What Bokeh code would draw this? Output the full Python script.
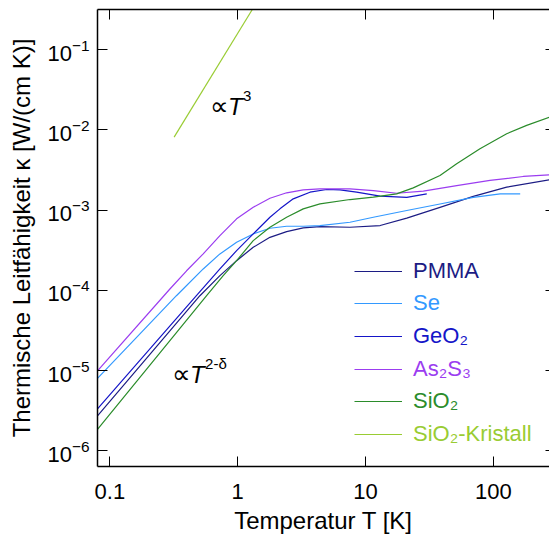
from bokeh.plotting import figure
from bokeh.models import LogAxis, FixedTicker, Legend, LegendItem, Range1d
from bokeh.core.properties import value
from bokeh.embed import file_html
from bokeh.resources import INLINE

FONT = "Liberation Sans"

# ---- data ----
x_ticks = [0.1, 1, 10, 100]
x_tick_labels = ["0.1", "1", "10", "100"]
y_ticks = [1e-6, 1e-5, 1e-4, 1e-3, 1e-2, 1e-1]

pmma_T = [0.080, 0.506, 0.7256, 0.980, 1.322, 1.786, 2.413, 3.254, 4.397, 7.55, 13.0, 21.0,
          38.2, 69.6, 127, 275]
pmma_k = [2.72e-6, 8.56e-5, 1.522e-4, 2.34e-4, 3.43e-4, 4.57e-4, 5.39e-4, 5.99e-4, 6.22e-4,
          6.10e-4, 6.41e-4, 7.94e-4, 1.08e-3, 1.48e-3, 1.93e-3, 2.38e-3]

se_T = [0.080, 0.3314, 0.537, 0.7256, 0.980, 1.322, 1.786, 2.413, 3.254, 4.397, 7.55, 11.5,
        21.0, 38.2, 69.6, 113, 162]
se_k = [8.0e-6, 8.56e-5, 1.845e-4, 2.84e-4, 3.96e-4, 5.04e-4, 5.93e-4, 6.28e-4, 6.28e-4,
        6.40e-4, 7.04e-4, 8.13e-4, 9.87e-4, 1.19e-3, 1.44e-3, 1.59e-3, 1.59e-3]

geo2_T = [0.080, 0.475, 0.7256, 0.980, 1.322, 1.786, 2.139, 2.718, 3.672, 4.962, 6.31, 8.51,
          13.0, 21.0, 30.1]
geo2_k = [3.33e-6, 8.56e-5, 1.845e-4, 3.12e-4, 5.04e-4, 8.13e-4, 1.035e-3, 1.379e-3,
          1.668e-3, 1.803e-3, 1.78e-3, 1.67e-3, 1.49e-3, 1.44e-3, 1.59e-3]

as2s3_T = [0.080, 0.2947, 0.398, 0.537, 0.7256, 0.980, 1.322, 1.786, 2.413, 3.254, 4.397,
           7.55, 11.5, 17.5, 28.3, 51.6, 94.0, 171, 275]
as2s3_k = [9.9e-6, 1.038e-4, 1.75e-4, 2.84e-4, 4.80e-4, 7.77e-4, 1.084e-3, 1.404e-3,
           1.640e-3, 1.788e-3, 1.839e-3, 1.84e-3, 1.75e-3, 1.62e-3, 1.72e-3, 2.02e-3,
           2.34e-3, 2.62e-3, 2.75e-3]

sio2_T = [0.080, 0.571, 0.770, 0.980, 1.322, 1.786, 2.413, 3.254, 4.397, 7.55, 11.5, 17.5,
          23.6, 38.2, 51.6, 78.5, 127, 182, 275]
sio2_k = [1.85e-6, 8.56e-5, 1.522e-4, 2.34e-4, 4.16e-4, 6.10e-4, 8.13e-4, 1.035e-3,
          1.195e-3, 1.352e-3, 1.445e-3, 1.59e-3, 1.89e-3, 2.70e-3, 3.78e-3, 5.81e-3,
          8.93e-3, 1.135e-2, 1.44e-2]

kristall_T = [0.318, 1.30]
kristall_k = [8.1e-3, 0.316]

names = ["PMMA", "Se", "GeO\u2082", "As\u2082S\u2083", "SiO\u2082", "SiO\u2082-Kristall"]
colors = ["#1c1c84", "#3399ff", "#1515c8", "#9b3df0", "#2b8c2b", "#99cc33"]
series_T = [pmma_T, se_T, geo2_T, as2s3_T, sio2_T, kristall_T]
series_k = [pmma_k, se_k, geo2_k, as2s3_k, sio2_k, kristall_k]

# annotation anchors (T, kappa) and texts
ann_x = [0.6026, 0.304]
ann_y = [0.01959, 9.02e-6]
ann_exp = ["3", "2-\u03b4"]

# ---- figure ----
p = figure(width=549, height=543, x_axis_type="log", y_axis_type="log",
           x_range=Range1d(0.08, 274.6), y_range=Range1d(6.37e-7, 0.3155),
           output_backend="svg", toolbar_location=None,
           min_border_left=97, min_border_right=0, min_border_top=9, min_border_bottom=77)
p.grid.visible = False
p.outline_line_color = None
p.background_fill_color = "white"
p.border_fill_color = "white"

xb = p.below[0]
yl = p.left[0]
xb.ticker = FixedTicker(ticks=x_ticks)
xb.major_label_overrides = dict(zip(x_ticks, x_tick_labels))
yl.ticker = FixedTicker(ticks=y_ticks)

for ax in (xb, yl):
    ax.major_tick_in = 10
    ax.major_tick_out = 0
    ax.minor_tick_line_color = None
    ax.axis_line_width = 1.5
    ax.axis_line_color = "black"
    ax.major_tick_line_color = "black"
    ax.major_label_text_font = FONT
    ax.major_label_text_font_size = "22px"
    ax.major_label_text_color = "black"
    ax.axis_label_text_font = FONT
    ax.axis_label_text_font_size = "24px"
    ax.axis_label_text_font_style = "normal"
    ax.axis_label_text_color = "black"

xb.axis_label = "Temperatur T [K]"
xb.major_label_standoff = 17
xb.axis_label_standoff = 5
yl.axis_label = "Thermische Leitfähigkeit \u03ba [W/(cm K)]"
yl.major_label_standoff = 8
yl.axis_label_standoff = 9

top = LogAxis(ticker=FixedTicker(ticks=x_ticks), major_label_text_font_size="1px",
              major_label_text_alpha=0, major_label_standoff=0, major_tick_in=10,
              major_tick_out=0, minor_tick_line_color=None, axis_line_width=1.5,
              axis_line_color="black")
p.add_layout(top, "above")
right = LogAxis(ticker=FixedTicker(ticks=y_ticks), major_label_text_font_size="1px",
                major_label_text_alpha=0, major_label_standoff=0, major_tick_in=4,
                major_tick_out=0, minor_tick_line_color=None, axis_line_color=None)
p.add_layout(right, "right")

renderers = []
for T, k, c in zip(series_T, series_k, colors):
    r = p.line(T, k, line_color=c, line_width=1.2, line_join="round")
    renderers.append(r)

# legends (one per entry so each label keeps its own colour)
row_top = 270.5
row_step = 32.7
for i, (nm, c, r) in enumerate(zip(names, colors, renderers)):
    centre = row_top + i * row_step
    yb = 466 - centre - 15
    leg = Legend(items=[LegendItem(label=nm, renderers=[r])], location=(257, yb),
                 glyph_width=48, glyph_height=30, label_height=30, label_standoff=11,
                 padding=0, margin=0, spacing=0, border_line_color=None,
                 background_fill_alpha=0, label_text_font=FONT,
                 label_text_font_size="22px", label_text_color=c)
    p.add_layout(leg)

# annotations  ∝ T^n
p.text(x=ann_x, y=ann_y, text=["\u221d", "\u221d"], text_font=value(FONT),
       text_font_size="26px", text_baseline="alphabetic", text_align="left",
       text_color="black")
p.text(x=ann_x, y=ann_y, text=["T", "T"], x_offset=18.5, text_font=value(FONT),
       text_font_size="24px", text_font_style="italic", text_baseline="alphabetic",
       text_align="left", text_color="black")
p.text(x=ann_x, y=ann_y, text=ann_exp, x_offset=33.5, y_offset=-10.5, text_font=value(FONT),
       text_font_size="15px", text_baseline="alphabetic", text_align="left",
       text_color="black")

open("out.html", "w").write(file_html(p, INLINE))
